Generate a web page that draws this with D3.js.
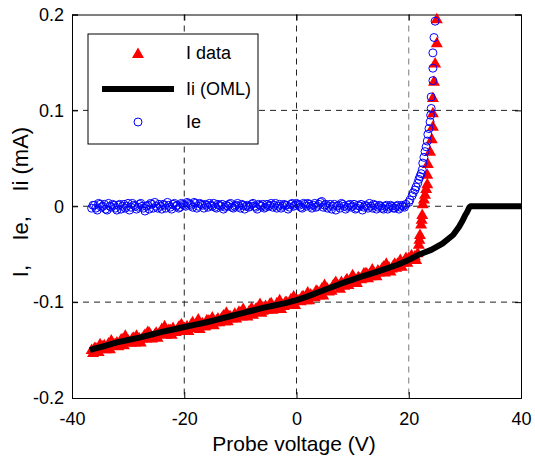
<!DOCTYPE html>
<html>
<head>
<meta charset="utf-8">
<script src="https://cdn.jsdelivr.net/npm/d3@7"></script>
<style>
body { margin: 0; background: #fff; }
text { font-family: "Liberation Sans", Arial, sans-serif; }
</style>
</head>
<body>
<div id="graph1"></div>
<script>
// I data (measured probe current), [V, mA]
var iData = [
  [-36.5,-0.149],[-36,-0.147],[-35.5,-0.149],[-35,-0.143],[-34.5,-0.145],[-34,-0.148],[-33.5,-0.142],[-33,-0.139],
  [-32.5,-0.143],[-32,-0.141],[-31.5,-0.142],[-31,-0.138],[-30.5,-0.134],[-30,-0.139],[-29.5,-0.141],[-29,-0.136],
  [-28.5,-0.134],[-28,-0.137],[-27.5,-0.137],[-27,-0.133],[-26.5,-0.130],[-26,-0.133],[-25.5,-0.135],[-25,-0.131],
  [-24.5,-0.132],[-24,-0.127],[-23.5,-0.124],[-23,-0.131],[-22.5,-0.128],[-22,-0.126],[-21.5,-0.130],[-21,-0.125],
  [-20.5,-0.122],[-20,-0.126],[-19.5,-0.124],[-19,-0.126],[-18.5,-0.120],[-18,-0.122],[-17.5,-0.117],[-17,-0.122],
  [-16.5,-0.124],[-16,-0.118],[-15.5,-0.119],[-15,-0.115],[-14.5,-0.120],[-14,-0.116],[-13.5,-0.117],[-13,-0.113],
  [-12.5,-0.110],[-12,-0.114],[-11.5,-0.116],[-11,-0.111],[-10.5,-0.113],[-10,-0.110],[-9.5,-0.106],[-9,-0.112],
  [-8.5,-0.109],[-8,-0.105],[-7.5,-0.108],[-7,-0.105],[-6.5,-0.101],[-6,-0.108],[-5.5,-0.103],[-5,-0.104],
  [-4.5,-0.100],[-4,-0.105],[-3.5,-0.100],[-3,-0.097],[-2.5,-0.102],[-2,-0.099],[-1.5,-0.102],[-1,-0.096],
  [-0.5,-0.093],[0,-0.097],[0.5,-0.097],[1,-0.093],[1.5,-0.096],[2,-0.089],[2.5,-0.091],[3,-0.092],
  [3.5,-0.087],[4,-0.092],[4.5,-0.085],[5,-0.081],[5.5,-0.085],[6,-0.086],[6.5,-0.082],[7,-0.078],
  [7.5,-0.082],[8,-0.078],[8.5,-0.082],[9,-0.075],[9.5,-0.077],[10,-0.071],[10.5,-0.076],[11,-0.073],
  [11.5,-0.075],[12,-0.069],[12.5,-0.069],[13,-0.070],[13.5,-0.065],[14,-0.071],[14.5,-0.066],[15,-0.067],
  [15.5,-0.062],[16,-0.059],[16.5,-0.063],[17,-0.064],[17.5,-0.059],[18,-0.059],[18.5,-0.055],[19,-0.058],
  [19.5,-0.053],[20,-0.053],[20.5,-0.050],[21.1,-0.051],[21.3,-0.055],[21.6,-0.048],[21.8,-0.039],[21.9,-0.034],
  [22.0,-0.029],[22.2,-0.018],[22.3,-0.013],[22.4,-0.008],[22.5,0.003],[22.7,0.008],[22.9,0.013],[23.1,0.019],
  [23.3,0.024],[23.3,0.034],[23.4,0.045],[23.8,0.058],[24.1,0.071],[24.3,0.084],[24.3,0.098],[24.3,0.114],
  [24.5,0.131],[24.7,0.150],[25.0,0.171],[25.0,0.196]
];
// I data samples between the ones above
var iData2 = [
  [-36.25,-0.152],[-35.75,-0.147],[-35.25,-0.151],[-34.75,-0.147],[-34.25,-0.144],[-33.75,-0.147],[-33.25,-0.148],[-32.75,-0.142],
  [-32.25,-0.143],[-31.75,-0.145],[-31.25,-0.138],[-30.75,-0.144],[-30.25,-0.140],[-29.75,-0.141],[-29.25,-0.137],[-28.75,-0.141],
  [-28.25,-0.138],[-27.75,-0.141],[-27.25,-0.135],[-26.75,-0.137],[-26.25,-0.131],[-25.75,-0.137],[-25.25,-0.133],[-24.75,-0.136],
  [-24.25,-0.132],[-23.75,-0.129],[-23.25,-0.133],[-22.75,-0.128],[-22.25,-0.133],[-21.75,-0.130],[-21.25,-0.128],[-20.75,-0.124],
  [-20.25,-0.129],[-19.75,-0.127],[-19.25,-0.129],[-18.75,-0.122],[-18.25,-0.124],[-17.75,-0.125],[-17.25,-0.127],[-16.75,-0.121],
  [-16.25,-0.124],[-15.75,-0.118],[-15.25,-0.121],[-14.75,-0.123],[-14.25,-0.118],[-13.75,-0.120],[-13.25,-0.115],[-12.75,-0.119],
  [-12.25,-0.119],[-11.75,-0.114],[-11.25,-0.115],[-10.75,-0.116],[-10.25,-0.109],[-9.75,-0.114],[-9.25,-0.111],[-8.75,-0.114],
  [-8.25,-0.108],[-7.75,-0.112],[-7.25,-0.106],[-6.75,-0.108],[-6.25,-0.110],[-5.75,-0.106],[-5.25,-0.107],[-4.75,-0.101],
  [-4.25,-0.107],[-3.75,-0.104],[-3.25,-0.102],[-2.75,-0.106],[-2.25,-0.103],[-1.75,-0.099],[-1.25,-0.100],[-0.75,-0.102],
  [-0.25,-0.102],[0.25,-0.097],[0.75,-0.098],[1.25,-0.093],[1.75,-0.097],[2.25,-0.097],[2.75,-0.092],[3.25,-0.094],
  [3.75,-0.088],[4.25,-0.090],[4.75,-0.092],[5.25,-0.086],[5.75,-0.088],[6.25,-0.087],[6.75,-0.080],[7.25,-0.082],
  [7.75,-0.085],[8.25,-0.081],[8.75,-0.077],[9.25,-0.081],[9.75,-0.079],[10.25,-0.075],[10.75,-0.079],[11.25,-0.074],
  [11.75,-0.074],[12.25,-0.069],[12.75,-0.074],[13.25,-0.072],[13.75,-0.068],[14.25,-0.072],[14.75,-0.068],[15.25,-0.064],
  [15.75,-0.068],[16.25,-0.065],[16.75,-0.067],[17.25,-0.061],[17.75,-0.063],[18.25,-0.060],[18.75,-0.062],[19.25,-0.056],
  [19.75,-0.058]
];

// Ii (OML) fit line
var iiVolt = [-36.8,-36,-34,-32,-30,-28,-26,-24,-22,-20,-18,-16,-14,-12,-10,-8,-6,-4,-2,0,
  2,4,6,8,10,12,14,16,18,20,22,24,26,27.9,29,29.5,30,30.4,30.8,31,40];
var iiCurr = [-0.150,-0.1485,-0.1455,-0.142,-0.1395,-0.137,-0.134,-0.131,-0.1285,-0.126,-0.1235,-0.121,-0.118,-0.115,-0.112,-0.109,-0.106,-0.1035,-0.101,-0.098,
  -0.094,-0.0895,-0.085,-0.0805,-0.0765,-0.0725,-0.069,-0.065,-0.061,-0.056,-0.050,-0.0455,-0.039,-0.030,-0.021,-0.016,-0.010,-0.006,-0.001,0,0];

// Ie (electron current)
var ieData = [
  [-36.5,-0.002],[-36,0.001],[-35.5,-0.004],[-35,0.002],[-34.5,0.000],[-34,-0.003],[-33.5,0.003],[-33,-0.001],
  [-32.5,0.001],[-32,-0.004],[-31.5,0.002],[-31,0.000],[-30.5,-0.002],[-30,0.003],[-29.5,-0.001],[-29,0.001],
  [-28.5,-0.003],[-28,0.002],[-27.5,0.000],[-27,-0.005],[-26.5,0.001],[-26,0.003],[-25.5,-0.002],[-25,0.000],
  [-24.5,0.002],[-24,-0.003],[-23.5,0.001],[-23,0.004],[-22.5,-0.001],[-22,0.002],[-21.5,0.000],[-21,-0.002],
  [-20.5,0.003],[-20,0.001],[-19.5,0.004],[-19,0.002],[-18.5,-0.001],[-18,0.003],[-17.5,0.000],[-17,0.002],
  [-16.5,-0.002],[-16,0.001],[-15.5,0.003],[-15,0.000],[-14.5,-0.001],[-14,0.002],[-13.5,0.000],[-13,-0.003],
  [-12.5,0.001],[-12,0.002],[-11.5,-0.001],[-11,0.000],[-10.5,0.003],[-10,-0.002],[-9.5,0.001],[-9,0.000],
  [-8.5,-0.001],[-8,0.002],[-7.5,0.000],[-7,-0.003],[-6.5,0.001],[-6,0.002],[-5.5,-0.001],[-5,0.000],
  [-4.5,0.003],[-4,0.001],[-3.5,-0.002],[-3,0.002],[-2.5,0.000],[-2,0.001],[-1.5,-0.003],[-1,0.002],
  [-0.5,0.000],[0,0.003],[0.5,0.001],[1,-0.002],[1.5,0.002],[2,0.003],[2.5,0.000],[3,0.001],
  [3.5,-0.001],[4,0.002],[4.5,0.005],[5,0.001],[5.5,-0.002],[6,0.002],[6.5,0.000],[7,-0.004],
  [7.5,0.001],[8,0.003],[8.5,0.000],[9,-0.001],[9.5,0.002],[10,0.000],[10.5,-0.003],[11,0.001],
  [11.5,0.002],[12,-0.001],[12.5,0.000],[13,0.003],[13.5,-0.002],[14,0.001],[14.5,-0.001],[15,0.000],
  [15.5,-0.003],[16,0.001],[16.5,-0.001],[17,0.000],[17.5,-0.002],[18,0.001],[18.5,-0.001],[19,0.000],
  [19.5,0.002],[20.0,0.004],[20.2,0.0065],[20.6,0.011],[20.8,0.014],[21.1,0.017],[21.3,0.020],[21.6,0.024],
  [21.8,0.028],[22.0,0.031],[22.2,0.034],[22.4,0.038],[22.5,0.045],[22.7,0.051],[22.9,0.057],[23.1,0.062],
  [23.3,0.068],[23.4,0.075],[23.6,0.081],[23.8,0.088],[23.9,0.095],[24.0,0.102],[24.0,0.114],[24.3,0.131],
  [24.3,0.144],[24.3,0.160],[24.5,0.176],[24.7,0.193]
];
// Ie samples between the ones above
var ieData2 = [
  [-36.25,0.001],[-35.75,-0.002],[-35.25,0.003],[-34.75,-0.001],[-34.25,0.002],[-33.75,-0.004],[-33.25,0.000],[-32.75,0.002],
  [-32.25,-0.002],[-31.75,0.001],[-31.25,-0.003],[-30.75,0.002],[-30.25,0.000],[-29.75,-0.004],[-29.25,0.003],[-28.75,0.000],
  [-28.25,-0.001],[-27.75,0.003],[-27.25,-0.002],[-26.75,0.000],[-26.25,-0.003],[-25.75,0.002],[-25.25,0.004],[-24.75,-0.002],
  [-24.25,0.000],[-23.75,0.002],[-23.25,-0.002],[-22.75,0.001],[-22.25,-0.003],[-21.75,0.003],[-21.25,0.001],[-20.75,-0.001],
  [-20.25,0.002],[-19.75,0.000],[-19.25,0.003],[-18.75,0.001],[-18.25,0.004],[-17.75,-0.002],[-17.25,0.003],[-16.75,0.001],
  [-16.25,0.002],[-15.75,-0.001],[-15.25,0.001],[-14.75,0.003],[-14.25,-0.002],[-13.75,0.001],[-13.25,0.002],[-12.75,-0.001],
  [-12.25,0.000],[-11.75,0.003],[-11.25,-0.002],[-10.75,0.001],[-10.25,0.000],[-9.75,0.002],[-9.25,-0.003],[-8.75,0.001],
  [-8.25,0.000],[-7.75,0.003],[-7.25,-0.001],[-6.75,0.002],[-6.25,0.000],[-5.75,-0.002],[-5.25,0.002],[-4.75,0.001],
  [-4.25,-0.001],[-3.75,0.003],[-3.25,0.000],[-2.75,-0.002],[-2.25,0.002],[-1.75,0.001],[-1.25,-0.001],[-0.75,0.003],
  [-0.25,0.001],[0.25,0.002],[0.75,-0.001],[1.25,0.003],[1.75,0.000],[2.25,0.002],[2.75,-0.002],[3.25,0.003],
  [3.75,0.000],[4.25,0.004],[4.75,-0.001],[5.25,0.002],[5.75,0.000],[6.25,-0.003],[6.75,0.002],[7.25,0.000],
  [7.75,-0.002],[8.25,0.002],[8.75,-0.003],[9.25,0.001],[9.75,-0.001],[10.25,0.002],[10.75,-0.002],[11.25,0.000],
  [11.75,-0.004],[12.25,0.001],[12.75,-0.002],[13.25,0.000],[13.75,0.002],[14.25,-0.003],[14.75,0.001],[15.25,-0.002],
  [15.75,0.000],[16.25,-0.003],[16.75,0.001],[17.25,-0.002],[17.75,0.000],[18.25,-0.003],[18.75,0.001],[19.25,-0.001]
];

var xTicks = [-40,-20,0,20,40];
var yTicks = [-0.2,-0.1,0,0.1,0.2];
var legendLabels = ["I data","Ii (OML)","Ie"];

function draw(){
  var left = 72, top = 14.5, width = 449, height = 383.5;
  var xscale = d3.scaleLinear().domain([-40,40]).range([0,width]);
  var yscale = d3.scaleLinear().domain([-0.2,0.2]).range([height,0]);

  var root = d3.select("#graph1").append("svg")
    .attr("width",535).attr("height",464);
  var svg = root.append("g").attr("transform","translate("+left+","+top+")");

  // grid
  svg.selectAll(".vgrid").data(xTicks.slice(1,-1)).enter().append("line")
    .attr("x1",function(d){return xscale(d)}).attr("x2",function(d){return xscale(d)})
    .attr("y1",0).attr("y2",height)
    .attr("stroke",function(d){return d==20 ? "#7a7a7a" : "#222"})
    .attr("stroke-width",1).attr("stroke-dasharray","6,5");
  svg.selectAll(".hgrid").data(yTicks.slice(1,-1)).enter().append("line")
    .attr("x1",0).attr("x2",width)
    .attr("y1",function(d){return yscale(d)}).attr("y2",function(d){return yscale(d)})
    .attr("stroke","#222").attr("stroke-width",1).attr("stroke-dasharray","6,5");

  // axes
  var fmt = function(d){ return String(d); };
  svg.append("g").attr("transform","translate(0,"+height+")")
    .call(d3.axisBottom(xscale).tickValues(xTicks).tickSize(-6).tickPadding(14).tickFormat(fmt));
  svg.append("g")
    .call(d3.axisLeft(yscale).tickValues(yTicks).tickSize(-6).tickPadding(8).tickFormat(fmt));
  svg.append("g").call(d3.axisTop(xscale).tickValues(xTicks).tickSize(-6).tickFormat(""));
  svg.append("g").attr("transform","translate("+width+",0)")
    .call(d3.axisRight(yscale).tickValues(yTicks).tickSize(-6).tickFormat(""));
  svg.selectAll(".domain").attr("stroke","#000");
  svg.selectAll(".tick text").attr("font-size",18).attr("fill","#000")
    .attr("font-family","'Liberation Sans', Arial, sans-serif");

  // marks
  var tri = "M0,-5.5L6,5L-6,5Z";
  svg.selectAll(".tri").data(iData.concat(iData2)).enter().append("path")
    .attr("d",tri)
    .attr("transform",function(d){return "translate("+xscale(d[0])+","+yscale(d[1])+")"})
    .attr("fill","#ff0000");

  var iiPts = iiVolt.map(function(v,i){return [v,iiCurr[i]]});
  svg.append("path").datum(iiPts)
    .attr("d",d3.line().x(function(d){return xscale(d[0])}).y(function(d){return yscale(d[1])}))
    .attr("fill","none").attr("stroke","#000").attr("stroke-width",6).attr("stroke-linejoin","round");

  svg.selectAll(".ie").data(ieData.concat(ieData2)).enter().append("circle")
    .attr("cx",function(d){return xscale(d[0])}).attr("cy",function(d){return yscale(d[1])})
    .attr("r",4).attr("fill","none").attr("stroke","#0000ff").attr("stroke-width",1);

  // legend
  var lg = root.append("g");
  lg.append("rect").attr("x",88).attr("y",34).attr("width",170).attr("height",110)
    .attr("fill","#fff").attr("stroke","#000").attr("stroke-width",1);
  lg.append("path").attr("d",tri).attr("transform","translate(138,53)").attr("fill","#ff0000");
  lg.append("line").attr("x1",102).attr("x2",174).attr("y1",89).attr("y2",89)
    .attr("stroke","#000").attr("stroke-width",6);
  lg.append("circle").attr("cx",138).attr("cy",122).attr("r",4)
    .attr("fill","none").attr("stroke","#0000ff");
  lg.selectAll(".lt").data(legendLabels).enter().append("text")
    .attr("x",186).attr("y",function(d,i){return [53,89,122][i]+6})
    .attr("font-size",18).text(function(d){return d});

  // axis titles
  root.append("text").attr("x",294).attr("y",451).attr("text-anchor","middle")
    .attr("font-size",21).text("Probe voltage (V)");
  root.append("text").attr("transform","translate(28,202) rotate(-90)")
    .attr("text-anchor","middle").attr("font-size",22)
    .style("white-space","pre").text("I,    Ie,    Ii (mA)");
}
draw();
</script>
</body>
</html>
